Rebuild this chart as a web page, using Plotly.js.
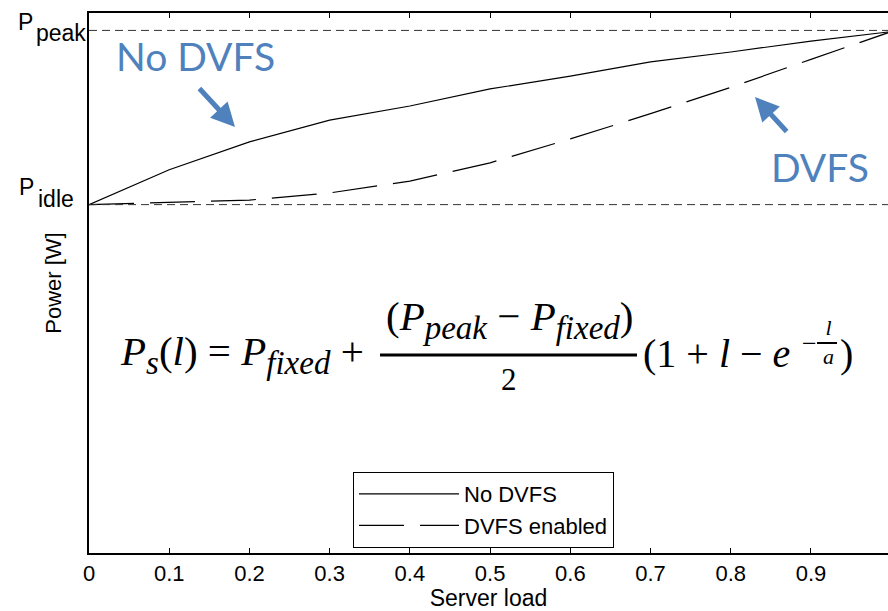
<!DOCTYPE html>
<html><head><meta charset="utf-8">
<script src="https://cdn.plot.ly/plotly-3.0.1.min.js"></script>
<style>html,body{margin:0;padding:0;background:#fff;overflow:hidden}</style>
</head><body><div id="chart" style="width:888px;height:611px"></div>
<script>
// ---- data ----
const serverLoad = [0, 0.1, 0.2, 0.3, 0.4, 0.5, 0.6, 0.7, 0.8, 0.9, 1.0];
const powerNoDVFS = [200, 220, 236, 248.5, 256.6, 266.4, 273.8, 281.9, 287.6, 293.9, 299.3];
const powerDVFS   = [200, 201.5, 202.6, 206.7, 213.5, 224, 237.7, 252.2, 267.3, 283.4, 299.3];
const seriesNames = ['No DVFS', 'DVFS enabled'];
const pIdle = 200;
const pPeak = 300;
const xTickVals = [0, 0.1, 0.2, 0.3, 0.4, 0.5, 0.6, 0.7, 0.8, 0.9];
const xTickText = ['0', '0.1', '0.2', '0.3', '0.4', '0.5', '0.6', '0.7', '0.8', '0.9'];
const xTitle = 'Server load';
const yTitle = 'Power [W]';
const calloutNoDVFS = 'No DVFS';
const calloutDVFS = 'DVFS';

// ---- layout helpers (pixel -> paper) ----
const L = 89, R = 888, T = 13, B = 553;
const X = px => (px - L) / (R - L);
const Y = py => (B - py) / (B - T);

const SANS = 'Liberation Sans, Arial, sans-serif';
const SERIF = 'Liberation Serif, Times New Roman, serif';
const BLUE = '#4F81BD';
const sub = (t, s) => `<sub><span style="font-size:${s}px"><i>${t}</i></span></sub>`;

const traces = [
  {x: serverLoad, y: powerNoDVFS, name: seriesNames[0], type: 'scatter', mode: 'lines',
   line: {color: '#000', width: 1.2}},
  {x: serverLoad, y: powerDVFS, name: seriesNames[1], type: 'scatter', mode: 'lines',
   line: {color: '#000', width: 1.2, dash: '45px,16px'}}
];

function ann(text, px, py, size, family, xanchor, color) {
  return {text, x: X(px), y: Y(py), xref: 'paper', yref: 'paper', showarrow: false,
          xanchor: xanchor || 'left', yanchor: 'middle',
          font: {size, family: family || SANS, color: color || '#000'}};
}

const annotations = [
  // P_peak / P_idle labels
  ann('P', 16, 22, 23), ann('peak', 34, 33, 23),
  ann('P', 17, 187, 23), ann('idle', 36, 199, 23),
  // callouts
  ann(calloutNoDVFS, 114, 55.9, 39, 'Lato, sans-serif', 'left', BLUE),
  ann(calloutDVFS, 769, 166.9, 39, 'Lato, sans-serif', 'left', BLUE),
  {x: X(235), y: Y(127), xref: 'paper', yref: 'paper', text: '', showarrow: true,
   ax: -37, ay: -40, arrowhead: 2, arrowsize: 0.95, arrowwidth: 5, arrowcolor: BLUE},
  {x: X(755), y: Y(97), xref: 'paper', yref: 'paper', text: '', showarrow: true,
   ax: 33, ay: 36, arrowhead: 2, arrowsize: 0.95, arrowwidth: 5, arrowcolor: BLUE},
  // formula
  ann('<i>P</i>' + sub('s', 33) + '(<i>l</i>) = <i>P</i>' + sub('fixed', 33) + ' +', 118, 354.6, 41, SERIF),
  ann('(<i>P</i>' + sub('peak', 33) + ' − <i>P</i>' + sub('fixed', 33) + ')', 509, 319.6, 41, SERIF, 'center'),
  ann('2', 509, 379.9, 31, SERIF, 'center'),
  ann('(1 + <i>l</i> − <i>e</i>', 641, 353.5, 40, SERIF),
  ann('−', 809, 343, 26, SERIF, 'center'),
  ann('<i>l</i><br><i>a</i>', 828, 342, 22, SERIF, 'center'),
  ann(')', 846, 353.5, 40, SERIF, 'center')
];

const shapes = [
  {type: 'line', xref: 'paper', yref: 'y', x0: 0, x1: 1, y0: pPeak, y1: pPeak,
   line: {color: '#333', width: 1, dash: '8px,5px'}},
  {type: 'line', xref: 'paper', yref: 'y', x0: 0, x1: 1, y0: pIdle, y1: pIdle,
   line: {color: '#333', width: 1, dash: '8px,5px'}},
  // fraction bars
  {type: 'line', xref: 'paper', yref: 'paper', x0: X(380), x1: X(637), y0: Y(355), y1: Y(355),
   line: {color: '#000', width: 3}},
  {type: 'line', xref: 'paper', yref: 'paper', x0: X(817), x1: X(837), y0: Y(343), y1: Y(343),
   line: {color: '#000', width: 2}}
];

const layout = {
  width: 888, height: 611,
  margin: {l: L, r: 888 - R, t: T, b: 611 - B, pad: 0},
  paper_bgcolor: '#fff', plot_bgcolor: '#fff',
  font: {family: SANS, size: 22, color: '#000'},
  showlegend: true,
  legend: {x: X(353), y: Y(472), xanchor: 'left', yanchor: 'top',
           bordercolor: '#000', borderwidth: 1, bgcolor: '#fff',
           font: {family: SANS, size: 22, color: '#000'}, itemwidth: 100},
  xaxis: {range: [0, 0.996], tickvals: xTickVals, ticktext: xTickText,
          ticks: 'inside', ticklen: 5, tickwidth: 1, tickcolor: '#000',
          showline: true, linewidth: 2, linecolor: '#000', mirror: 'ticks',
          showgrid: false, zeroline: false, automargin: false,
          tickfont: {family: SANS, size: 22, color: '#000'},
          title: {text: xTitle, font: {family: SANS, size: 23, color: '#000'}, standoff: 6}},
  yaxis: {range: [0, 310], showticklabels: false, ticks: '',
          showline: true, linewidth: 2, linecolor: '#000', mirror: false,
          showgrid: false, zeroline: false, automargin: false,
          title: {text: yTitle, font: {family: SANS, size: 22, color: '#000'}, standoff: 19}},
  shapes, annotations
};

Plotly.newPlot('chart', traces, layout, {staticPlot: true, displayModeBar: false});
</script></body></html>
